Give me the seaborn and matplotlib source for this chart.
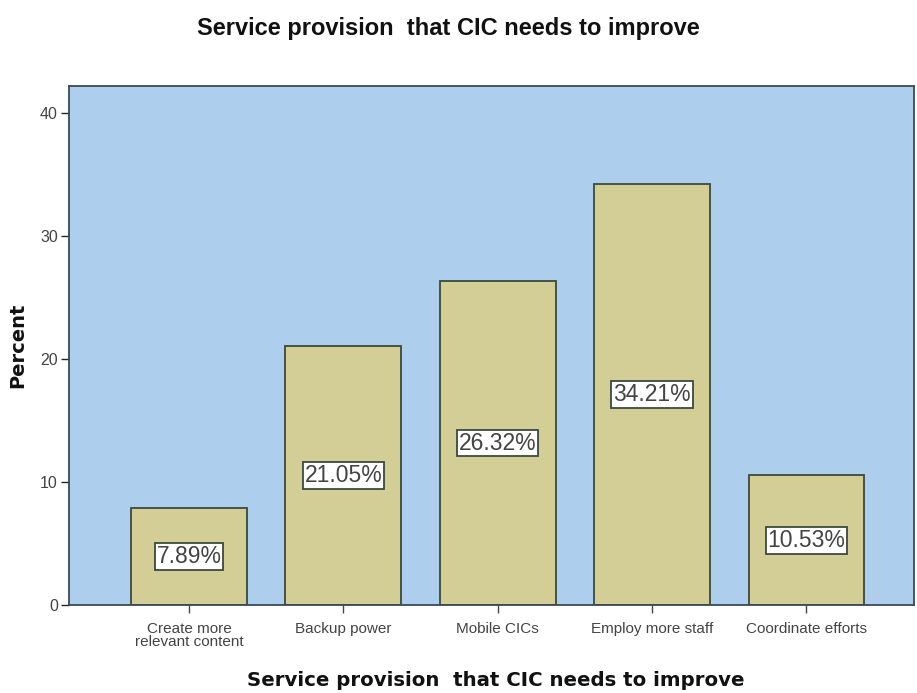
import matplotlib
matplotlib.use("Agg")
import matplotlib.pyplot as plt
import seaborn as sns
import pandas as pd

categories = ["Create more\nrelevant content", "Backup power", "Mobile CICs",
              "Employ more staff", "Coordinate efforts"]
percents = [7.89, 21.05, 26.32, 34.21, 10.53]
value_labels = ["7.89%", "21.05%", "26.32%", "34.21%", "10.53%"]
y_ticks = [0, 10, 20, 30, 40]

sns.set_style("white")
plt.rcParams['font.family'] = ['Liberation Sans', 'DejaVu Sans']

df = pd.DataFrame({"cat": categories, "pct": percents})

fig = plt.figure(figsize=(9.17, 6.93), dpi=100)
ax = fig.add_axes([0.0752, 0.127, 0.922, 0.749])
ax.set_facecolor("#ADCEEC")

sns.barplot(data=df, x="cat", y="pct", ax=ax, color="#D3CE96", saturation=1,
            width=0.75, edgecolor="#3B4A3E", linewidth=1.3)

for i, (v, lab) in enumerate(zip(percents, value_labels)):
    ax.text(i, v / 2, lab, ha="center", va="center", fontsize=16.5, color="#444444",
            bbox=dict(boxstyle="square,pad=0.08", facecolor="white",
                      edgecolor="#3B4A3E", linewidth=1.3))

ax.set_xlim(-0.778, 4.70)
ax.set_ylim(0, 42.2)
ax.set_yticks(y_ticks)
ax.set_yticklabels([str(t) for t in y_ticks], fontsize=11.5, color="#444444")
ax.tick_params(axis="x", labelsize=11, colors="#444444", length=6, width=1,
               direction="out", bottom=True, pad=6)
ax.tick_params(axis="y", length=6, width=1, direction="out", left=True, pad=2)
for lab in ax.get_xticklabels():
    lab.set_linespacing(0.98)

for s in ax.spines.values():
    s.set_color("#3B4A55")
    s.set_linewidth(1.3)

ax.set_xlabel("")
ax.set_ylabel("")
fig.text(496 / 917, 1 - 680 / 693, "Service provision  that CIC needs to improve",
         ha="center", va="center", fontsize=14.2, fontweight="bold",
         family="DejaVu Sans", color="#111111")
fig.text(18 / 917, 1 - 345 / 693, "Percent", rotation=90, ha="center", va="center",
         fontsize=14, fontweight="bold", family="DejaVu Sans", color="#111111")
fig.text(448 / 917, 1 - 28 / 693, "Service provision  that CIC needs to improve",
         ha="center", va="center", fontsize=17, fontweight="bold", color="#111111")

fig.savefig("out.png", dpi=100, facecolor="white")
